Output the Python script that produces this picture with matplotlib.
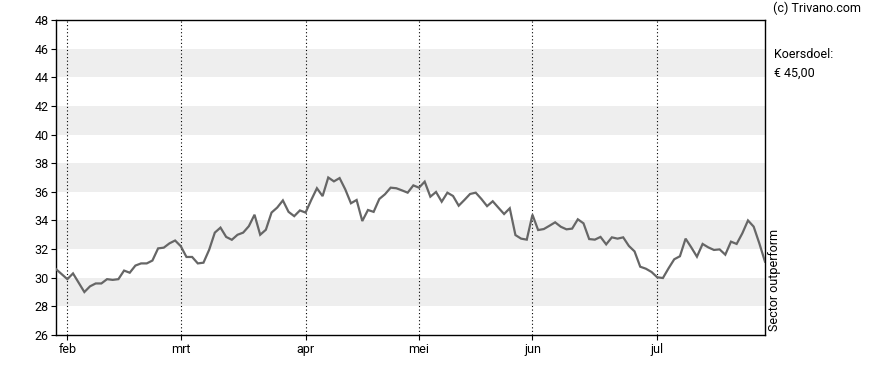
import matplotlib
matplotlib.use('Agg')
import matplotlib.pyplot as plt
import numpy as np

plt.rcParams['font.family'] = ['Roboto', 'DejaVu Sans']

# koers per handelsdag (index 0 = eind januari)
prices = [30.6, 30.25, 29.9, 30.3, 29.65, 29.0, 29.4, 29.6, 29.6, 29.9,
          29.85, 29.9, 30.5, 30.35, 30.85, 31.0, 31.0, 31.2, 32.05, 32.1,
          32.4, 32.6, 32.2, 31.45, 31.45, 31.0, 31.05, 31.95, 33.15, 33.5,
          32.85, 32.65, 33.0, 33.15, 33.6, 34.4, 33.0, 33.35, 34.55, 34.9,
          35.4, 34.6, 34.3, 34.7, 34.55, 35.43, 36.25, 35.7, 37.0, 36.73,
          36.96, 36.17, 35.2, 35.43, 33.96, 34.73, 34.6, 35.5, 35.83, 36.29,
          36.25, 36.1, 35.94, 36.45, 36.29, 36.71, 35.66, 35.99, 35.31, 35.94,
          35.71, 35.03, 35.43, 35.85, 35.94, 35.5, 35.0, 35.34, 34.89, 34.45,
          34.85, 32.98, 32.73, 32.66, 34.4, 33.33, 33.4, 33.63, 33.87, 33.56,
          33.38, 33.43, 34.08, 33.8, 32.7, 32.66, 32.85, 32.33, 32.82, 32.73,
          32.82, 32.22, 31.84, 30.77, 30.63, 30.4, 30.03, 29.98, 30.66, 31.29,
          31.5, 32.73, 32.12, 31.47, 32.36, 32.12, 31.94, 31.98, 31.61, 32.52,
          32.36, 33.1, 34.0, 33.57, 32.4, 31.12]

month_labels = ['feb', 'mrt', 'apr', 'mei', 'jun', 'jul']
month_index = [2, 22, 44, 64, 84, 106]
y_ticks = list(range(26, 49, 2))
bands = [(28, 30), (32, 34), (36, 38), (40, 42), (44, 46)]

fig = plt.figure(figsize=(8.88, 3.7), dpi=100)
ax = fig.add_axes([56 / 888, 35 / 370, 709 / 888, 315 / 370])

for lo, hi in bands:
    ax.axhspan(lo, hi, color='#eeeeee', lw=0, zorder=0)

for m in month_index:
    ax.axvline(m, color='black', lw=0.8, linestyle=(0, (1, 2.2)), zorder=1)

x = np.arange(len(prices))
ax.plot(x, prices, color='#666666', lw=1.6, zorder=3, solid_joinstyle='miter')

ax.set_xlim(0, len(prices) - 1)
ax.set_ylim(26, 48)
ax.set_yticks(y_ticks)
ax.set_xticks(month_index)
ax.set_xticklabels(month_labels)
ax.tick_params(axis='both', length=3.5, width=0.8, labelsize=9, colors='black', pad=2)
for s in ax.spines.values():
    s.set_linewidth(1.0)
    s.set_color('black')

fig.text(773 / 888, 1 - 8 / 370, '(c) Trivano.com', fontsize=9, ha='left', va='center')
fig.text(774 / 888, 1 - 55 / 370, 'Koersdoel:', fontsize=9, ha='left', va='center')
fig.text(774 / 888, 1 - 73 / 370, '\u20ac 45,00', fontsize=9, ha='left', va='center')
fig.text(774 / 888, 1 - 331 / 370, 'Sector outperform', fontsize=9, rotation=90,
         ha='center', va='bottom')

fig.savefig('out.png', dpi=100)
plt.close(fig)
